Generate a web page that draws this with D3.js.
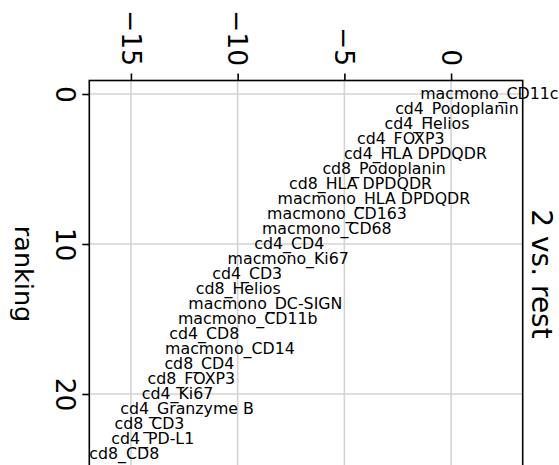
<!DOCTYPE html>
<html>
<head>
<meta charset="utf-8">
<script src="https://cdn.jsdelivr.net/npm/d3@7"></script>
<style>
  body { margin: 0; background: #fff; }
  svg { display: block; font-family: "DejaVu Sans", sans-serif; }
</style>
</head>
<body>
<div id="chart"></div>
<script>
var svgWidth = 559;
var svgHeight = 465;

// gene names in rank order
var genes = ["macmono_CD11c", "cd4_Podoplanin", "cd4_Helios", "cd4_FOXP3", "cd4_HLA DPDQDR",
  "cd8_Podoplanin", "cd8_HLA DPDQDR", "macmono_HLA DPDQDR", "macmono_CD163", "macmono_CD68",
  "cd4_CD4", "macmono_Ki67", "cd4_CD3", "cd8_Helios", "macmono_DC-SIGN",
  "macmono_CD11b", "cd4_CD8", "macmono_CD14", "cd8_CD4", "cd8_FOXP3",
  "cd4_Ki67", "cd4_Granzyme B", "cd8_CD3", "cd4_PD-L1", "cd8_CD8"];

// scores
var scores = [-1.45, -2.62, -3.12, -4.41, -5.02,
  -6.03, -7.59, -8.13, -8.62, -8.86,
  -9.22, -10.47, -11.19, -11.96, -12.31,
  -12.80, -13.20, -13.40, -13.43, -14.22,
  -14.49, -15.50, -15.77, -15.92, -16.95];

var scoreTicks = [-15, -10, -5, 0];
var rankTicks = [0, 10, 20];
var title = "2 vs. rest";
var rankLabel = "ranking";

var margin = { top: 80.5, left: 89.3, right: 36.3 };
var plotBottom = 467.5;

var svg = d3.select("#chart")
  .append("svg")
  .attr("width", svgWidth)
  .attr("height", svgHeight);

// score runs across, ranking runs down (the plot is turned on its side)
var minScore = d3.min(scores);
var maxScore = d3.max(scores);
var xScale = d3.scaleLinear()
  .domain([minScore, maxScore + 0.31 * (maxScore - minScore)])
  .range([margin.left, svgWidth - margin.right]);

var yScale = d3.scaleLinear()
  .domain([-0.9, genes.length - 0.1])
  .range([margin.top, plotBottom]);

var gridColor = "#d3d3d3";

// grid
svg.append("g").selectAll("line")
  .data(scoreTicks)
  .enter()
  .append("line")
  .attr("x1", d => xScale(d))
  .attr("x2", d => xScale(d))
  .attr("y1", margin.top)
  .attr("y2", plotBottom)
  .attr("stroke", gridColor)
  .attr("stroke-width", 1.6);

svg.append("g").selectAll("line")
  .data(rankTicks)
  .enter()
  .append("line")
  .attr("x1", margin.left)
  .attr("x2", svgWidth - margin.right)
  .attr("y1", d => yScale(d))
  .attr("y2", d => yScale(d))
  .attr("stroke", gridColor)
  .attr("stroke-width", 1.6);

// frame
svg.append("rect")
  .attr("x", margin.left)
  .attr("y", margin.top)
  .attr("width", svgWidth - margin.right - margin.left)
  .attr("height", plotBottom - margin.top)
  .attr("fill", "none")
  .attr("stroke", "#000")
  .attr("stroke-width", 1.6);

// axes
var topAxis = svg.append("g")
  .attr("transform", `translate(0, ${margin.top})`)
  .call(d3.axisTop(xScale).tickValues(scoreTicks).tickSize(7).tickSizeOuter(0));

var leftAxis = svg.append("g")
  .attr("transform", `translate(${margin.left}, 0)`)
  .call(d3.axisLeft(yScale).tickValues(rankTicks).tickSize(7).tickSizeOuter(0));

[topAxis, leftAxis].forEach(function(ax) {
  ax.select(".domain").remove();
  ax.selectAll(".tick line").attr("stroke", "#000").attr("stroke-width", 1.6);
  ax.selectAll(".tick text")
    .attr("fill", "#000")
    .attr("font-size", 26.5)
    .attr("font-family", "DejaVu Sans")
    .attr("x", null)
    .attr("y", null)
    .attr("dy", null);
});

topAxis.selectAll(".tick text")
  .attr("text-anchor", "end")
  .attr("transform", "translate(-9.7, -14.5) rotate(90)");

leftAxis.selectAll(".tick text")
  .attr("text-anchor", "middle")
  .attr("transform", "translate(-33.6, 0) rotate(90)");

// gene labels
svg.append("g").selectAll("text")
  .data(genes)
  .enter()
  .append("text")
  .attr("x", (d, i) => xScale(scores[i]))
  .attr("y", (d, i) => yScale(i) + 4.5)
  .attr("font-size", 15.8)
  .attr("fill", "#000")
  .text(d => d);

// axis label and title
var midY = (margin.top + plotBottom) / 2;

svg.append("text")
  .attr("transform", `translate(15, ${midY}) rotate(90)`)
  .attr("text-anchor", "middle")
  .attr("font-size", 25.5)
  .attr("fill", "#000")
  .text(rankLabel);

svg.append("text")
  .attr("transform", `translate(532, ${midY}) rotate(90)`)
  .attr("text-anchor", "middle")
  .attr("font-size", 28)
  .attr("fill", "#000")
  .text(title);
</script>
</body>
</html>
